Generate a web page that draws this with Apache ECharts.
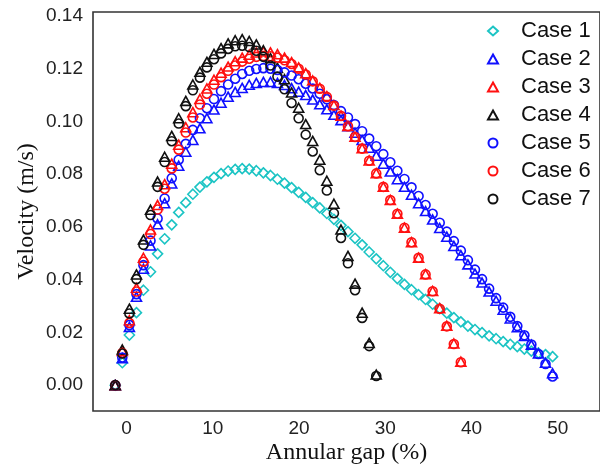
<!DOCTYPE html>
<html>
<head>
<meta charset="utf-8">
<script src="https://cdn.jsdelivr.net/npm/echarts@6/dist/echarts.min.js"></script>
<style>html,body{margin:0;padding:0;background:#fff}#c{width:600px;height:470px}</style>
</head>
<body>
<div id="c"></div>
<script>
// shared radial positions (Annular gap, %)
var gapX = [-1.32,-0.50,0.32,1.14,1.95,2.77,3.59,4.41,5.23,6.04,6.86,7.68,8.50,9.31,10.13,10.95,11.77,12.59,13.40,14.22,15.04,15.86,16.68,17.49,18.31,19.13,19.95,20.77,21.58,22.40,23.22,24.04,24.86,25.67,26.49,27.31,28.13,28.95,29.77,30.58,31.40,32.22,33.04,33.86,34.67,35.49,36.31,37.13,37.95,38.76,39.58,40.40,41.22,42.04,42.85,43.67,44.49,45.31,46.13,46.94,47.76,48.58,49.40];

var case1 = [0,0.0085,0.019,0.0275,0.036,0.043,0.0498,0.0555,0.0608,0.0655,0.0692,0.0724,0.0751,0.0771,0.0788,0.0802,0.0812,0.0818,0.0821,0.0819,0.0813,0.0805,0.0795,0.0781,0.0766,0.0749,0.0731,0.0712,0.0692,0.0672,0.0651,0.0629,0.0606,0.0582,0.0557,0.0532,0.0505,0.0479,0.0453,0.0428,0.0404,0.0382,0.0362,0.0343,0.0325,0.0307,0.029,0.0273,0.0256,0.024,0.0224,0.0211,0.0199,0.0187,0.0176,0.0165,0.0155,0.0146,0.0137,0.0129,0.0122,0.0116,0.0108];
var case2 = [0,0.0102,0.0221,0.0335,0.0441,0.053,0.061,0.069,0.0765,0.0832,0.0885,0.093,0.0974,0.1012,0.1045,0.1071,0.1094,0.1112,0.1127,0.1139,0.1146,0.115,0.115,0.1146,0.1138,0.1126,0.1113,0.11,0.1083,0.1065,0.1046,0.1025,0.1005,0.0982,0.0957,0.093,0.09,0.087,0.084,0.081,0.0781,0.0752,0.0722,0.069,0.066,0.0628,0.0596,0.0563,0.0528,0.0493,0.0458,0.0423,0.0389,0.0355,0.032,0.0286,0.0253,0.022,0.0186,0.0153,0.012,0.0085,0.0045];
var case3 = [0,0.013,0.0246,0.0369,0.0483,0.059,0.0683,0.0762,0.084,0.0912,0.0978,0.1035,0.1085,0.1125,0.1158,0.1185,0.1208,0.1228,0.1242,0.1253,0.1261,0.1265,0.1262,0.1255,0.1242,0.1225,0.1205,0.1183,0.1155,0.1127,0.1096,0.1062,0.1022,0.0983,0.0942,0.0898,0.0852,0.0804,0.0752,0.0702,0.065,0.0597,0.0542,0.0483,0.0421,0.0357,0.0292,0.0225,0.0158,0.0089];
var case4 = [0,0.0135,0.029,0.042,0.0552,0.0665,0.0772,0.0866,0.0945,0.1012,0.1078,0.114,0.1188,0.1226,0.1256,0.1278,0.1296,0.1308,0.1312,0.1305,0.1292,0.127,0.124,0.1203,0.116,0.111,0.1052,0.099,0.0926,0.0855,0.0775,0.0688,0.059,0.049,0.0385,0.0275,0.016,0.004];
var case5 = [0,0.0105,0.0228,0.0345,0.0455,0.0548,0.0632,0.0708,0.0785,0.0855,0.0915,0.0968,0.1012,0.105,0.1085,0.1115,0.114,0.1162,0.118,0.1192,0.1199,0.1202,0.12,0.1195,0.1186,0.1174,0.116,0.1143,0.1125,0.1105,0.1084,0.1062,0.1039,0.1015,0.099,0.0963,0.0935,0.0906,0.0876,0.0845,0.0813,0.0782,0.075,0.0717,0.0683,0.065,0.0616,0.0582,0.0546,0.051,0.0474,0.0438,0.0402,0.0366,0.033,0.0294,0.0259,0.0224,0.0189,0.0154,0.0118,0.008,0.0033];
var case6 = [0,0.0122,0.0236,0.0355,0.0468,0.0573,0.0666,0.0745,0.0822,0.0893,0.0958,0.1015,0.1064,0.1105,0.114,0.1168,0.1192,0.1212,0.1227,0.1238,0.1245,0.1248,0.1247,0.1242,0.1232,0.1218,0.12,0.1178,0.1152,0.1124,0.1093,0.106,0.1021,0.0982,0.0941,0.0897,0.0851,0.0803,0.0752,0.0702,0.065,0.0597,0.0542,0.0483,0.042,0.0356,0.029,0.0223,0.0156,0.0087];
var case7 = [0,0.012,0.0272,0.0402,0.0532,0.0645,0.0752,0.0846,0.0925,0.0992,0.1058,0.1118,0.1166,0.1205,0.1236,0.1258,0.1275,0.1285,0.1287,0.1282,0.1268,0.1245,0.1212,0.117,0.1122,0.107,0.1012,0.095,0.0886,0.0815,0.0738,0.0652,0.0558,0.0462,0.036,0.0255,0.0148,0.0035];

var seriesNames = ['Case 1','Case 2','Case 3','Case 4','Case 5','Case 6','Case 7'];
var xTicks = [0,10,20,30,40,50];
var yTicks = [0,0.02,0.04,0.06,0.08,0.10,0.12,0.14];

var CYAN = '#1cc4c4', BLUE = '#1010ff', RED = '#ff1010', BLACK = '#111111';
var styles = [
  {sym:'diamond', c:CYAN, s:[10,10]},
  {sym:'triangle', c:BLUE, s:[10,9]},
  {sym:'triangle', c:RED, s:[10,9]},
  {sym:'triangle', c:BLACK, s:[10,9]},
  {sym:'circle', c:BLUE, s:[9,9]},
  {sym:'circle', c:RED, s:[9,9]},
  {sym:'circle', c:BLACK, s:[9,9]}
];
var allVals = [case1,case2,case3,case4,case5,case6,case7];

function pairs(vals){ var out=[]; for(var i=0;i<vals.length;i++){ out.push([gapX[i], vals[i]]); } return out; }

var series = allVals.map(function(v,k){
  var st = styles[k];
  return {
    name: seriesNames[k], type:'scatter', symbol: st.sym, symbolSize: st.s, symbolKeepAspect:true,
    data: pairs(v), z: 2,
    itemStyle: {color:'rgba(0,0,0,0)', borderColor: st.c, borderWidth:1.6, opacity:1},
    emphasis: {disabled:true}
  };
});

var chart = echarts.init(document.getElementById('c'), null, {renderer:'canvas'});
chart.setOption({
  animation:false,
  backgroundColor:'#fff',
  grid:{left:93, top:12, right:-2, bottom:57, show:true, borderColor:'#333', borderWidth:1.6, backgroundColor:'transparent'},
  legend:{
    orient:'vertical', left:482, top:15, itemWidth:10, itemHeight:9, itemGap:6,
    data: seriesNames.map(function(n,k){ return {name:n, icon: styles[k].sym}; }),
    formatter: function(n){ return '{t|' + n + '}'; },
    textStyle:{fontFamily:'Liberation Sans', fontSize:22, color:'#111', lineHeight:22,
      rich:{t:{fontFamily:'Liberation Sans', fontSize:22, color:'#111', lineHeight:22, padding:[0,0,0,18]}}},
    selectedMode:false
  },
  xAxis:{
    type:'value', min:-3.9, max:54.9,
    name:'Annular gap (%)', nameLocation:'middle', nameGap:30, nameMoveOverlap:false,
    nameTextStyle:{fontFamily:'Liberation Serif', fontSize:24, color:'#111'},
    axisLine:{show:false}, axisTick:{show:false}, splitLine:{show:false},
    axisLabel:{customValues:xTicks, fontFamily:'Liberation Sans', fontSize:19, color:'#222', margin:8}
  },
  yAxis:{
    type:'value', min:-0.0098, max:0.1415,
    name:'Velocity (m/s)', nameLocation:'middle', nameGap:54, nameRotate:90, nameMoveOverlap:false,
    nameTextStyle:{fontFamily:'Liberation Serif', fontSize:24, color:'#111'},
    axisLine:{show:false}, axisTick:{show:false}, splitLine:{show:false},
    axisLabel:{customValues:yTicks, fontFamily:'Liberation Sans', fontSize:19, color:'#222', margin:10,
      formatter:function(v){ return v.toFixed(2); }}
  },
  series: series
});
</script>
</body>
</html>
